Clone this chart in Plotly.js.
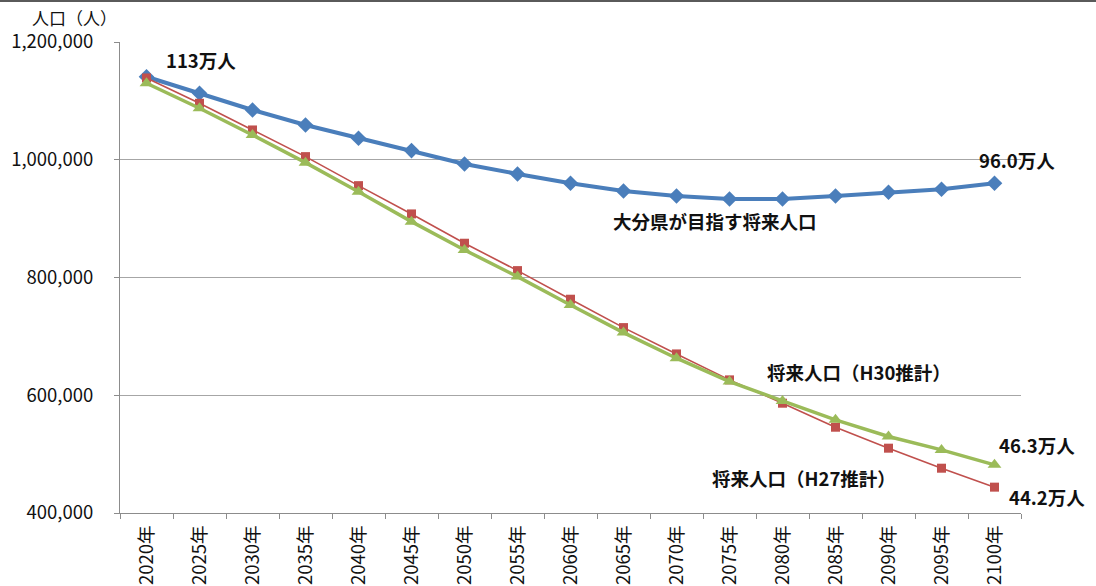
<!DOCTYPE html>
<html>
<head>
<meta charset="utf-8">
<script src="https://cdn.plot.ly/plotly-3.0.1.min.js"></script>
<style>
html,body{margin:0;padding:0;background:#fff;}
#wrap{position:relative;width:1096px;height:586px;}
#topline{position:absolute;left:0;top:0;width:1096px;height:2px;background:#5a5a5a;z-index:5;}
#chart{width:1096px;height:586px;}
</style>
</head>
<body>
<div id="wrap"><div id="topline"></div><div id="chart"></div></div>
<script>
// ---- data ----
const years = ["2020年","2025年","2030年","2035年","2040年","2045年","2050年","2055年","2060年","2065年","2070年","2075年","2080年","2085年","2090年","2095年","2100年"];
const targetPop = [1141000,1112900,1084500,1059000,1036500,1015500,992800,975900,960100,947000,938500,933400,933400,938500,944800,950000,960100];
const h27Pop = [1138900,1095900,1050600,1005300,956000,908000,858200,811700,763100,714900,670200,626100,586500,545700,510100,476100,443900];
const h30Pop = [1129900,1087500,1042100,995100,945800,894900,846800,801500,753400,706400,662900,623200,590400,558200,530000,507200,481800];
const seriesNames = ["大分県が目指す将来人口","将来人口（H27推計）","将来人口（H30推計）"];
const yTitle = "人口（人）";
const labelStart = "113万人";
const labelTargetEnd = "96.0万人";
const labelH30End = "46.3万人";
const labelH27End = "44.2万人";

const FONT = '"Noto Sans CJK JP", "Noto Sans", sans-serif';

const traces = [
  {x: years, y: targetPop, name: seriesNames[0], type: 'scatter', mode: 'lines+markers',
   line: {color: '#4A7EBB', width: 4}, marker: {symbol: 'diamond', size: 12, color: '#4A7EBB'}},
  {x: years, y: h27Pop, name: seriesNames[1], type: 'scatter', mode: 'lines+markers',
   line: {color: '#C0504D', width: 1.6}, marker: {symbol: 'square', size: 9, color: '#C0504D'}},
  {x: years, y: h30Pop, name: seriesNames[2], type: 'scatter', mode: 'lines+markers',
   line: {color: '#9BBB59', width: 3.5}, marker: {symbol: 'triangle-up', size: 12, color: '#9BBB59'}}
];

const last = years.length - 1;
function lab(text, xi, yv, dx, dy) {
  return {x: years[xi], y: yv, xref: 'x', yref: 'y', text: text, showarrow: false,
    xanchor: 'center', yanchor: 'middle', xshift: dx, yshift: dy,
    font: {family: FONT, size: 18.5, color: '#111', weight: 'bold'}};
}

const layout = {
  width: 1096, height: 586,
  margin: {l: 120, r: 75, t: 42, b: 73, pad: 0},
  paper_bgcolor: '#ffffff', plot_bgcolor: '#ffffff',
  showlegend: false,
  font: {family: FONT, color: '#111'},
  xaxis: {
    type: 'category', range: [-0.5, 16.5], tickangle: -90,
    showgrid: false, showline: true, linecolor: '#8c8c8c', linewidth: 1,
    ticks: 'outside', ticklen: 5, tickcolor: '#8c8c8c', tickson: 'boundaries',
    tickfont: {family: FONT, size: 18.5, color: '#111'}, ticklabelstandoff: 4,
    zeroline: false
  },
  yaxis: {
    range: [400000, 1200000], dtick: 200000, tick0: 400000, tickformat: ',d',
    showgrid: true, gridcolor: '#a6a6a6', gridwidth: 1,
    showline: true, linecolor: '#8c8c8c', linewidth: 1,
    ticks: 'outside', ticklen: 5, tickcolor: '#8c8c8c',
    tickfont: {family: FONT, size: 18.5, color: '#111'}, ticklabelstandoff: 17,
    zeroline: false
  },
  annotations: [
    {xref: 'paper', yref: 'paper', x: -0.05, y: 1.051, text: yTitle, showarrow: false,
     xanchor: 'center', yanchor: 'middle', font: {family: FONT, size: 17, color: '#111'}},
    lab(labelStart, 0, targetPop[0], 54, 17),
    lab(labelTargetEnd, last, targetPop[last], 22, 23),
    lab(seriesNames[0], 11, targetPop[11], -15, -22),
    lab(seriesNames[2], 12, h30Pop[12], 76, 29),
    lab(labelH30End, last, h30Pop[last], 42, 20),
    lab(seriesNames[1], 13, h27Pop[13], -32, -51),
    lab(labelH27End, last, h27Pop[last], 52, -10)
  ]
};

Plotly.newPlot('chart', traces, layout, {staticPlot: true, displayModeBar: false});
</script>
</body>
</html>
